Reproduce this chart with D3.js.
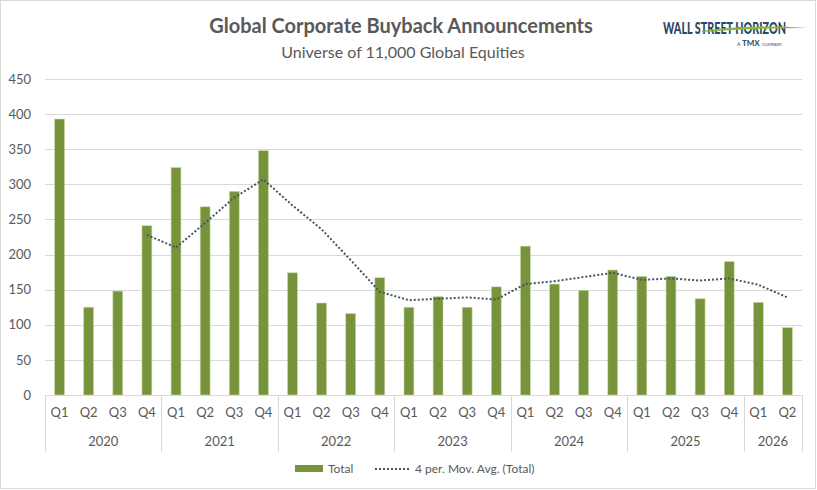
<!DOCTYPE html>
<html>
<head>
<meta charset="utf-8">
<script src="https://cdn.jsdelivr.net/npm/d3@7"></script>
<style>
  body { margin: 0; background: #fff; }
  text { font-family: Lato, "Open Sans", sans-serif; }
</style>
</head>
<body>
<div id="chart"></div>
<script>
// Chart data
const years = ["2020", "2021", "2022", "2023", "2024", "2025", "2026"];
const quartersInYear = [4, 4, 4, 4, 4, 4, 2];
const quarterNames = ["Q1", "Q2", "Q3", "Q4"];
const totals = [393, 125, 148, 241, 324, 268, 290, 348, 174, 131, 116, 167,
                125, 140, 125, 154, 212, 158, 149, 178, 169, 169, 137, 190, 132, 96];
// 4 period moving average as read from the trendline (starts at 2020 Q4)
const movAvg = [null, null, null, 228, 210, 245, 281, 307, 270, 236, 192, 147,
                135, 137, 139, 136, 158, 162, 168, 174, 164, 166, 163, 166, 157, 139];
const yTicks = [0, 50, 100, 150, 200, 250, 300, 350, 400, 450];

const width = 817;
const height = 490;
const margin = { left: 45, right: 15, top: 79, bottom: 95 };

// build category list from years
const cats = [];
years.forEach((y, i) => {
    for (let q = 0; q < quartersInYear[i]; q++) cats.push({ year: y, q: quarterNames[q] });
});
cats.forEach((c, i) => c.i = i);

const svg = d3.select("#chart").append("svg")
    .attr("width", width)
    .attr("height", height);

// outer frame
svg.append("rect")
    .attr("x", 0.5).attr("y", 0.5)
    .attr("width", width - 2).attr("height", height - 2)
    .attr("fill", "#fff")
    .attr("stroke", "#d9d9d9");

const x = d3.scaleBand()
    .domain(cats.map(d => d.i))
    .range([margin.left, width - margin.right])
    .paddingInner(0.66)
    .paddingOuter(0.33);

const y = d3.scaleLinear()
    .domain([0, 450])
    .range([height - margin.bottom, margin.top]);

// gridlines
svg.append("g")
    .selectAll("line")
    .data(yTicks)
    .join("line")
    .attr("x1", margin.left)
    .attr("x2", width - margin.right)
    .attr("y1", d => Math.round(y(d)) + 0.5)
    .attr("y2", d => Math.round(y(d)) + 0.5)
    .attr("stroke", "#d9d9d9")
    .attr("stroke-width", 1);

// y axis labels
const yAxis = svg.append("g")
    .attr("transform", `translate(${margin.left - 14},0)`)
    .call(d3.axisLeft(y).tickValues(yTicks).tickSize(0).tickPadding(0));
yAxis.select(".domain").remove();
yAxis.selectAll("text")
    .attr("fill", "#595959")
    .style("font-size", "13px")
    .style("font-family", "Lato, sans-serif");

// bars
svg.append("g")
    .selectAll("rect")
    .data(cats)
    .join("rect")
    .attr("x", d => x(d.i))
    .attr("y", d => y(totals[d.i]))
    .attr("width", x.bandwidth())
    .attr("height", d => y(0) - y(totals[d.i]))
    .attr("fill", "#77933c")
    .attr("stroke", "#c9dba6")
    .attr("stroke-width", 0.6);

// moving average line
const line = d3.line()
    .defined(d => d.v != null)
    .x(d => x(d.i) + x.bandwidth() / 2)
    .y(d => y(d.v));

svg.append("path")
    .datum(cats.map(d => ({ i: d.i, v: movAvg[d.i] })))
    .attr("d", line)
    .attr("fill", "none")
    .attr("stroke", "#44546a")
    .attr("stroke-width", 2)
    .attr("stroke-dasharray", "2 2");

// category axis
const base = y(0);
svg.append("line")
    .attr("x1", margin.left).attr("x2", width - margin.right)
    .attr("y1", Math.round(base) + 0.5).attr("y2", Math.round(base) + 0.5)
    .attr("stroke", "#d9d9d9");

svg.append("g")
    .selectAll("text")
    .data(cats)
    .join("text")
    .attr("x", d => x(d.i) + x.bandwidth() / 2)
    .attr("y", base + 22)
    .attr("text-anchor", "middle")
    .attr("fill", "#595959")
    .style("font-size", "13px")
    .text(d => d.q);

// year groups and separators
const step = x.step();
let start = 0;
const groups = years.map((yr, i) => {
    const g = { year: yr, from: start, to: start + quartersInYear[i] };
    start += quartersInYear[i];
    return g;
});
const edgeX = idx => margin.left + idx * step;

svg.append("g")
    .selectAll("line")
    .data([0].concat(groups.map(g => g.to)))
    .join("line")
    .attr("x1", d => Math.round(edgeX(d)) + 0.5)
    .attr("x2", d => Math.round(edgeX(d)) + 0.5)
    .attr("y1", base)
    .attr("y2", base + 57)
    .attr("stroke", "#d9d9d9");

svg.append("g")
    .selectAll("text")
    .data(groups)
    .join("text")
    .attr("x", d => (edgeX(d.from) + edgeX(d.to)) / 2)
    .attr("y", base + 51)
    .attr("text-anchor", "middle")
    .attr("fill", "#595959")
    .style("font-size", "13px")
    .text(d => d.year);

// titles
svg.append("text")
    .attr("x", 401).attr("y", 33)
    .attr("text-anchor", "middle")
    .attr("fill", "#595959")
    .style("font-size", "20px")
    .style("font-weight", "bold")
    .text("Global Corporate Buyback Announcements");

svg.append("text")
    .attr("x", 403).attr("y", 58)
    .attr("text-anchor", "middle")
    .attr("fill", "#595959")
    .style("font-size", "16px")
    .text("Universe of 11,000 Global Equities");

// legend
const leg = svg.append("g").attr("transform", "translate(0,469)");
leg.append("rect")
    .attr("x", 295).attr("y", -4)
    .attr("width", 28).attr("height", 7)
    .attr("fill", "#77933c");
leg.append("text")
    .attr("x", 328).attr("y", 4)
    .attr("fill", "#595959")
    .style("font-size", "12px")
    .text("Total");
leg.append("line")
    .attr("x1", 375).attr("x2", 410)
    .attr("y1", 0).attr("y2", 0)
    .attr("stroke", "#44546a")
    .attr("stroke-width", 2)
    .attr("stroke-dasharray", "2 2");
leg.append("text")
    .attr("x", 415).attr("y", 4)
    .attr("fill", "#595959")
    .style("font-size", "12px")
    .text("4 per. Mov. Avg. (Total)");

// logo: wordmark squeezed horizontally, green swoosh, small tagline
const logo = svg.append("g");
const mark = logo.append("g");
const markText = mark.append("text")
    .attr("x", 0).attr("y", 0)
    .attr("fill", "#2b4866")
    .style("font-size", "17px")
    .style("font-weight", "900")
    .text("WALL STREET HORIZON");
const natural = markText.node().getComputedTextLength();
mark.attr("transform", `translate(663,34) scale(${123 / natural},1)`);
logo.append("path")
    .attr("d", "M702,31 Q748,24 808,28 Q752,28 702,32 Z")
    .attr("fill", "#8db63c");
logo.append("text")
    .attr("x", 737).attr("y", 46)
    .attr("fill", "#2b4866")
    .style("font-size", "5px")
    .text("A");
logo.append("text")
    .attr("x", 742).attr("y", 46)
    .attr("fill", "#2b4866")
    .style("font-size", "8px")
    .style("font-weight", "bold")
    .text("TMX");
logo.append("text")
    .attr("x", 762).attr("y", 46)
    .attr("fill", "#2b4866")
    .style("font-size", "4px")
    .text("COMPANY");
</script>
</body>
</html>
